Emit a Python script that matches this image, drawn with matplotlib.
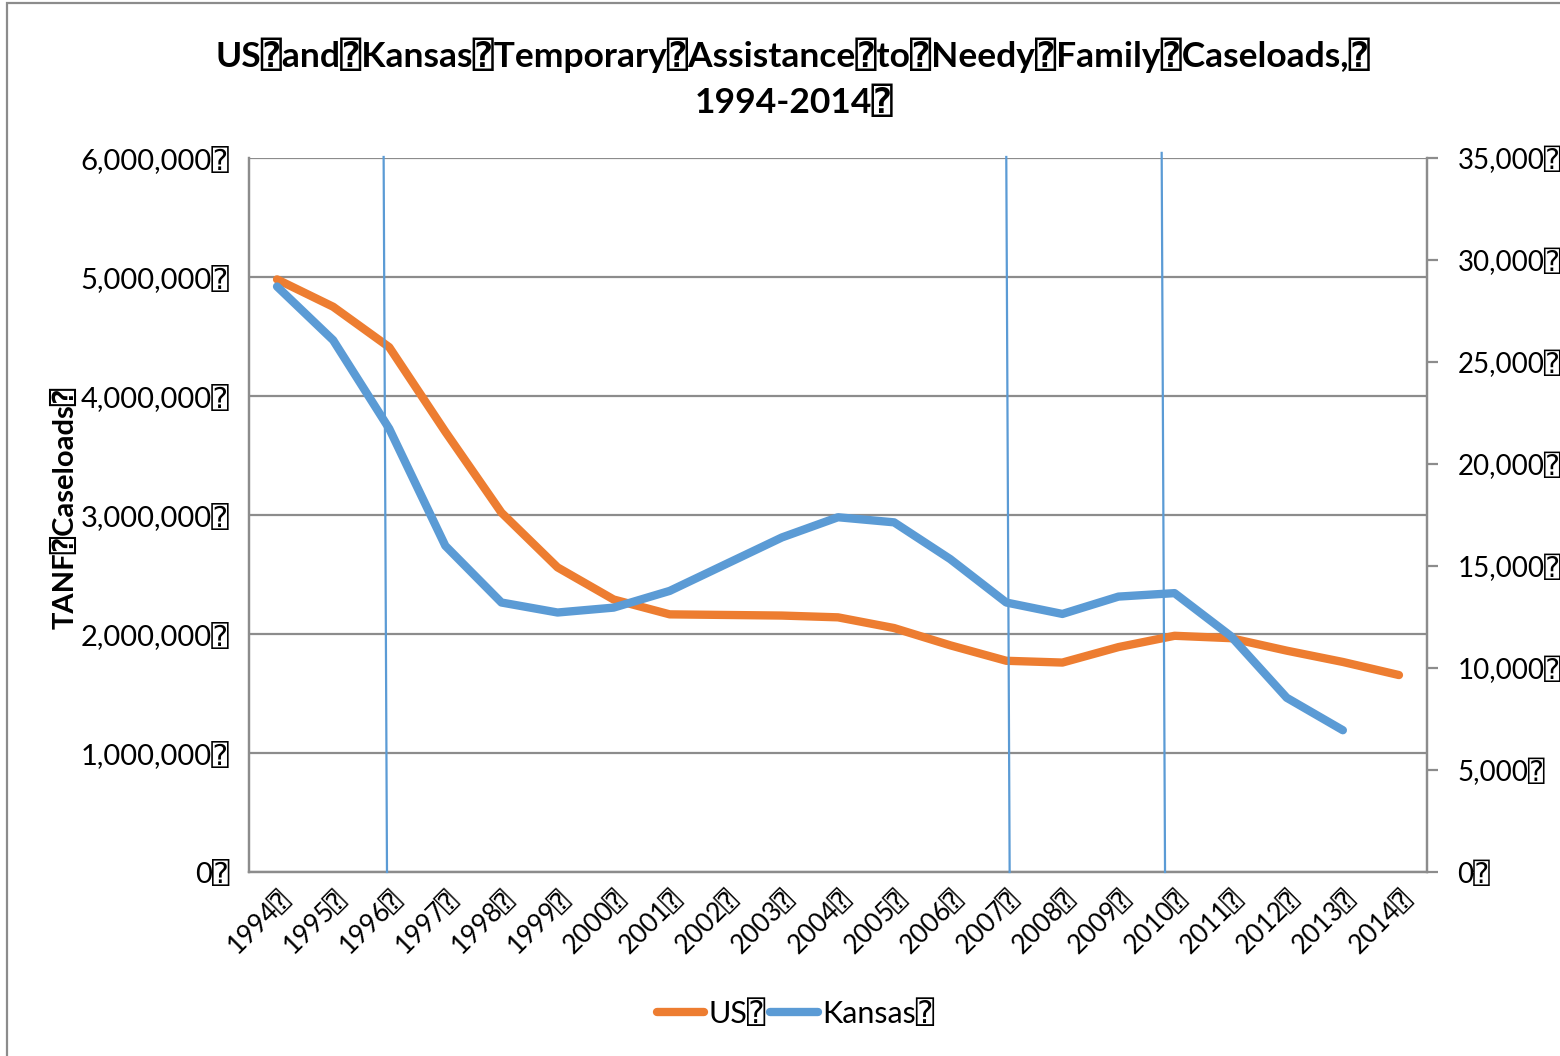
import matplotlib.pyplot as plt
from matplotlib.patches import Rectangle
from matplotlib.lines import Line2D

# Datos de casos TANF
years = ['1994', '1995', '1996', '1997', '1998', '1999', '2000', '2001', '2002', '2003', '2004',
         '2005', '2006', '2007', '2008', '2009', '2010', '2011', '2012', '2013', '2014']
us_cases = [4980000, 4750000, 4410000, 3700000, 3020000, 2560000, 2290000, 2165000, 2160000,
            2155000, 2140000, 2050000, 1905000, 1775000, 1760000, 1890000, 1985000, 1965000,
            1860000, 1765000, 1655000]
kansas_cases = [28700, 26070, 21730, 15990, 13210, 12720, 12960, 13780, 15090, 16400, 17390,
                17140, 15340, 13210, 12650, 13500, 13670, 11570, 8540, 6950]
# lineas verticales (posicion en categorias) y su altura superior
event_lines = [1.93, 13.03, 15.8]
event_tops = [35050, 35050, 35250]

BOX = '\u2370'
FAM = ['Lato', 'DejaVu Sans', 'DejaVu Sans Mono']
plt.rcParams['font.family'] = FAM

orange = '#ED7D31'
blue = '#5B9BD5'
grid_gray = '#8C8C8C'

fig = plt.figure(figsize=(15.6, 10.56), dpi=100)
ax = fig.add_axes([249 / 1560, 1 - 872 / 1056, (1427 - 249) / 1560, (872 - 158) / 1056])
ax2 = ax.twinx()

x = list(range(len(years)))
ax.plot(x, us_cases, color=orange, lw=6, solid_capstyle='round', solid_joinstyle='round', zorder=3)
ax2.plot(x[:len(kansas_cases)], kansas_cases, color=blue, lw=6, solid_capstyle='round',
         solid_joinstyle='round', zorder=3)

for ev, top in zip(event_lines, event_tops):
    ax2.plot([ev - 0.03, ev + 0.03], [top, 0], color=blue, lw=1.6, zorder=4, clip_on=False)

ax.set_xlim(-0.5, len(years) - 0.5)
ax.set_ylim(0, 6000000)
ax2.set_ylim(0, 35000)

ax.set_yticks(range(0, 6000001, 1000000))
ax.set_yticklabels([f'{v:,}' + BOX for v in range(0, 6000001, 1000000)], fontsize=21)
ax2.set_yticks(range(0, 35001, 5000))
ax2.set_yticklabels([f'{v:,}' + BOX for v in range(0, 35001, 5000)], fontsize=20)

ax.set_xticks(x)
ax.set_xticklabels([y + BOX for y in years], fontsize=19, rotation=45, ha='right', va='top',
                   rotation_mode='anchor')

ax.grid(axis='y', color=grid_gray, lw=1.6)
ax.set_axisbelow(True)
ax.tick_params(axis='y', length=0, pad=14)
ax.tick_params(axis='x', length=0, pad=10)
ax2.tick_params(axis='y', length=8, width=1.6, color=grid_gray, pad=14)

for a in (ax, ax2):
    a.spines['top'].set_visible(False)
    for s in ('left', 'right', 'bottom'):
        a.spines[s].set_color(grid_gray)
        a.spines[s].set_linewidth(1.6)

ax.set_ylabel('TANF' + BOX + 'Caseloads' + BOX, fontsize=21, fontweight='bold')
ax.yaxis.set_label_coords(-0.145, 0.51)

fig.text(0.508, 0.948, 'US' + BOX + 'and' + BOX + 'Kansas' + BOX + 'Temporary' + BOX + 'Assistance' + BOX +
         'to' + BOX + 'Needy' + BOX + 'Family' + BOX + 'Caseloads,' + BOX,
         ha='center', va='center', fontsize=25.5, fontweight='bold')
fig.text(0.509, 0.903, '1994-2014' + BOX, ha='center', va='center', fontsize=25.5, fontweight='bold')

handles = [Line2D([], [], color=orange, lw=6, solid_capstyle='round'),
           Line2D([], [], color=blue, lw=6, solid_capstyle='round')]
fig.legend(handles, ['US' + BOX, 'Kansas' + BOX], loc='center', bbox_to_anchor=(0.51, 0.04),
           ncol=2, frameon=False, fontsize=22, handlelength=1.55, handletextpad=0.15,
           columnspacing=0.15)

# marco gris de la figura
fig.patches.append(Rectangle((7 / 1560, -0.1), 1.2, 1 - 3 / 1056 + 0.1, transform=fig.transFigure,
                             fill=False, edgecolor='#8C8C8C', lw=1.6))

fig.savefig('out.png', dpi=100)
